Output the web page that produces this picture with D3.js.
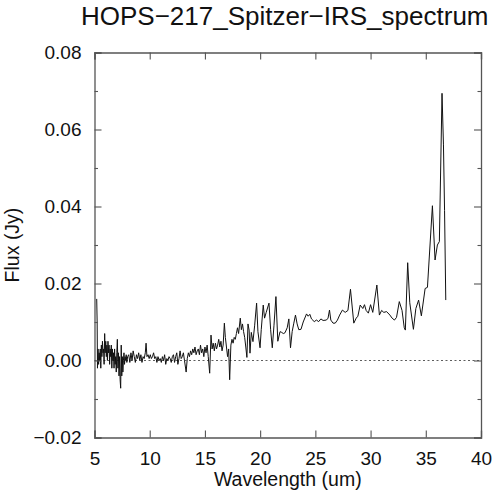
<!DOCTYPE html>
<html>
<head>
<meta charset="utf-8">
<script src="https://cdn.jsdelivr.net/npm/d3@7"></script>
<style>
  body { margin: 0; background: #fff; }
  text { font-family: "Liberation Sans", Arial, sans-serif; fill: #111; }
</style>
</head>
<body>
<svg id="chart" width="500" height="494"></svg>
<script>
// values (um, Jy)
const wavelength = [
  5.20, 5.24, 5.27, 5.32, 5.37, 5.42, 5.47, 5.52, 5.57, 5.62, 5.67, 5.72, 5.77, 5.82, 5.87, 5.92, 5.97,
  6.02, 6.07, 6.12, 6.17, 6.22, 6.27, 6.32, 6.37, 6.42, 6.47, 6.52, 6.57, 6.62, 6.67, 6.72, 6.77, 6.82,
  6.87, 6.92, 6.97, 7.02, 7.07, 7.12, 7.17, 7.22, 7.27, 7.32, 7.37, 7.42, 7.47, 7.52, 7.57, 7.62, 7.67,
  7.72, 7.77, 7.82, 7.87, 7.93, 8.00, 8.10, 8.20, 8.30, 8.40, 8.50, 8.60, 8.70, 8.80, 8.90, 9.00, 9.10,
  9.20, 9.30, 9.40, 9.50, 9.60, 9.67, 9.75, 9.85, 9.95, 10.05, 10.15, 10.25, 10.35, 10.45, 10.55, 10.65,
  10.75, 10.85, 10.95, 11.05, 11.15, 11.25, 11.35, 11.45, 11.55, 11.65, 11.75, 11.85, 11.95, 12.05,
  12.15, 12.25, 12.35, 12.45, 12.55, 12.65, 12.75, 12.85, 12.95, 13.05, 13.15, 13.30, 13.40, 13.50,
  13.60, 13.70, 13.80, 13.90, 14.00, 14.10, 14.20, 14.30, 14.40, 14.50, 14.60, 14.70, 14.80, 14.90,
  15.00, 15.10, 15.20, 15.30, 15.43, 15.55, 15.65, 15.75, 15.85, 15.95, 16.05, 16.15, 16.25, 16.35,
  16.45, 16.55, 16.65, 16.76, 16.85, 16.95, 17.05, 17.15, 17.24, 17.35, 17.45, 17.55, 17.65, 17.75,
  17.85, 17.95, 18.05, 18.20, 18.30, 18.40, 18.50, 18.60, 18.70, 18.80, 18.90, 19.00, 19.08, 19.20,
  19.35, 19.50, 19.68, 19.80, 19.99, 20.10, 20.28, 20.40, 20.55, 20.80, 20.95, 21.10, 21.25, 21.43,
  21.60, 21.80, 21.95, 22.10, 22.25, 22.45, 22.60, 22.75, 22.90, 23.05, 23.20, 23.35, 23.50, 23.70,
  23.90, 24.20, 24.35, 24.50, 24.65, 24.90, 25.10, 25.30, 25.50, 25.70, 26.00, 26.15, 26.28, 26.40,
  26.60, 26.80, 27.00, 27.20, 27.45, 27.70, 27.95, 28.18, 28.48, 28.70, 28.85, 29.06, 29.30, 29.45,
  29.60, 29.80, 30.00, 30.20, 30.57, 30.80, 31.00, 31.20, 31.45, 31.75, 31.95, 32.16, 32.35, 32.60,
  32.85, 33.05, 33.15, 33.36, 33.55, 33.88, 34.10, 34.35, 34.60, 34.94, 35.15, 35.60, 35.84, 36.05,
  36.23, 36.47, 36.60, 36.70, 36.81
];

const flux = [
  0.0160, 0.0100, -0.0020, 0.0030, -0.0010, 0.0020, 0.0000, 0.0030, -0.0020, 0.0040, 0.0010, 0.0050, 0.0020, 0.0030, -0.0010, 0.0070, 0.0020,
  0.0050, 0.0010, 0.0040, 0.0000, 0.0050, 0.0020, 0.0040, -0.0010, 0.0030, 0.0010, 0.0040, -0.0020, 0.0030, 0.0000, 0.0020, -0.0020, 0.0030,
  -0.0010, 0.0010, -0.0030, 0.0020, 0.0055, -0.0020, 0.0020, -0.0040, 0.0010, -0.0050, -0.0072, 0.0040, -0.0040, 0.0010, -0.0030, 0.0000, 0.0020,
  -0.0010, 0.0010, 0.0000, 0.0015, -0.0005, 0.0010, 0.0015, -0.0005, 0.0020, 0.0000, 0.0025, 0.0010, -0.0005, 0.0015, 0.0005, 0.0020, 0.0000,
  0.0015, -0.0005, 0.0010, 0.0005, 0.0020, 0.0045, 0.0010, 0.0015, 0.0005, 0.0015, 0.0005, 0.0010, 0.0020, 0.0005, 0.0010, -0.0005,
  0.0010, 0.0000, 0.0005, -0.0005, 0.0010, 0.0000, 0.0015, -0.0010, 0.0005, 0.0000, 0.0010, 0.0005, -0.0005, 0.0010,
  0.0015, -0.0005, 0.0010, 0.0020, -0.0010, 0.0005, 0.0025, 0.0005, 0.0010, 0.0020, 0.0000, -0.0030, 0.0005, 0.0020,
  0.0010, 0.0025, 0.0015, 0.0030, 0.0020, 0.0035, 0.0015, 0.0025, 0.0030, 0.0015, 0.0040, 0.0020, 0.0030, 0.0010,
  0.0035, 0.0020, 0.0040, 0.0010, -0.0033, 0.0066, 0.0030, 0.0045, 0.0025, 0.0045, 0.0030, 0.0040, 0.0055, 0.0035,
  0.0050, 0.0025, 0.0040, 0.0097, 0.0060, 0.0035, 0.0010, 0.0030, -0.0050, 0.0040, 0.0055, 0.0045, 0.0060, 0.0055,
  0.0070, 0.0085, 0.0070, 0.0110, 0.0080, 0.0095, 0.0075, 0.0060, 0.0035, 0.0008, 0.0095, 0.0079, 0.0019, 0.0073,
  0.0049, 0.0090, 0.0149, 0.0075, 0.0033, 0.0080, 0.0144, 0.0110, 0.0125, 0.0149, 0.0080, 0.0033, 0.0090, 0.0166,
  0.0050, 0.0075, 0.0073, 0.0070, 0.0072, 0.0085, 0.0108, 0.0033, 0.0075, 0.0097, 0.0118, 0.0095, 0.0080, 0.0081,
  0.0100, 0.0121, 0.0115, 0.0120, 0.0108, 0.0101, 0.0105, 0.0101, 0.0108, 0.0104, 0.0105, 0.0110, 0.0131, 0.0105,
  0.0097, 0.0097, 0.0105, 0.0118, 0.0131, 0.0125, 0.0130, 0.0185, 0.0097, 0.0110, 0.0115, 0.0144, 0.0135, 0.0145,
  0.0130, 0.0123, 0.0145, 0.0125, 0.0196, 0.0118, 0.0130, 0.0125, 0.0127, 0.0118, 0.0110, 0.0105, 0.0112, 0.0153,
  0.0130, 0.0085, 0.0079, 0.0254, 0.0150, 0.0081, 0.0135, 0.0157, 0.0116, 0.0187, 0.0190, 0.0402, 0.0261, 0.0300,
  0.0309, 0.0694, 0.0560, 0.0390, 0.0157
];

const xTicks = [5, 10, 15, 20, 25, 30, 35, 40];
const yTicks = [-0.02, 0.00, 0.02, 0.04, 0.06, 0.08];
const yMinorTicks = [-0.01, 0.01, 0.03, 0.05, 0.07];

const titleText = "HOPS\u2212217_Spitzer\u2212IRS_spectrum";

const svg = d3.select("#chart");
const margin = { left: 94.5, right: 19, top: 52.5, bottom: 56.5 };
const width = 500 - margin.left - margin.right;
const height = 494 - margin.top - margin.bottom;

const x = d3.scaleLinear().domain([5, 40]).range([0, width]);
const y = d3.scaleLinear().domain([-0.02, 0.08]).range([height, 0]);

const g = svg.append("g")
  .attr("transform", `translate(${margin.left}, ${margin.top})`);

let fmt = d => (d < 0 ? "\u2212" : "") + Math.abs(d).toFixed(2);

// zero reference line
g.append("line")
  .attr("x1", 0).attr("x2", width)
  .attr("y1", y(0)).attr("y2", y(0))
  .attr("stroke", "#333")
  .attr("stroke-width", 0.8)
  .attr("stroke-dasharray", "2,2.5");

// spectrum
let line = d3.line()
  .x((d, i) => x(wavelength[i]))
  .y(d => y(d));

g.append("path")
  .datum(flux)
  .attr("fill", "none")
  .attr("stroke", "#111")
  .attr("stroke-width", 1)
  .attr("stroke-linejoin", "round")
  .attr("d", line);

// axes, ticks pointing inward
let bottomAxis = d3.axisBottom(x).tickValues(xTicks).tickSize(-7).tickPadding(14).tickFormat(d3.format("d"));
let topAxis = d3.axisTop(x).tickValues(xTicks).tickSize(-7).tickFormat("");
let leftAxis = d3.axisLeft(y).tickValues(yTicks).tickSize(-7).tickPadding(13).tickFormat(fmt);
let rightAxis = d3.axisRight(y).tickValues(yTicks).tickSize(-7).tickFormat("");
let leftMinor = d3.axisLeft(y).tickValues(yMinorTicks).tickSize(-3.5).tickFormat("");
let rightMinor = d3.axisRight(y).tickValues(yMinorTicks).tickSize(-3.5).tickFormat("");

let styleAxis = sel => {
  sel.selectAll(".domain").attr("stroke", "#555").attr("stroke-width", 1.3);
  sel.selectAll(".tick line").attr("stroke", "#555").attr("stroke-width", 1.1);
  sel.selectAll(".tick text")
    .attr("font-family", "Liberation Sans, Arial, sans-serif")
    .attr("font-size", 19)
    .attr("fill", "#111");
};

g.append("g").attr("transform", `translate(0, ${height})`).call(bottomAxis).call(styleAxis);
g.append("g").call(topAxis).call(styleAxis);
g.append("g").call(leftAxis).call(styleAxis);
g.append("g").attr("transform", `translate(${width}, 0)`).call(rightAxis).call(styleAxis);
g.append("g").call(leftMinor).call(styleAxis).select(".domain").remove();
g.append("g").attr("transform", `translate(${width}, 0)`).call(rightMinor).call(styleAxis).select(".domain").remove();

// labels
svg.append("text")
  .attr("x", margin.left + width / 2 - 3)
  .attr("y", 25)
  .attr("text-anchor", "middle")
  .attr("font-size", 26)
  .text(titleText);

svg.append("text")
  .attr("x", margin.left + width / 2)
  .attr("y", 486)
  .attr("text-anchor", "middle")
  .attr("font-size", 19.5)
  .text("Wavelength (um)");

svg.append("text")
  .attr("transform", `translate(19, ${margin.top + height / 2}) rotate(-90)`)
  .attr("text-anchor", "middle")
  .attr("font-size", 19.5)
  .text("Flux (Jy)");
</script>
</body>
</html>
